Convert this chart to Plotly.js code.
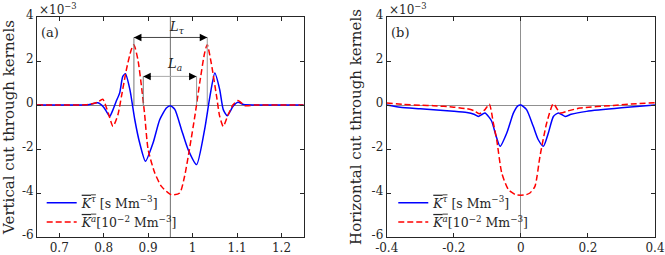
<!DOCTYPE html>
<html>
<head>
<meta charset="utf-8">
<script src="https://cdn.plot.ly/plotly-3.0.1.min.js"></script>
<style>html,body{margin:0;padding:0;background:#fff;}#chart{width:665px;height:255px;}</style>
</head>
<body>
<div id="chart"></div>
<script>
// Values in units of 1e-3
const vertX_tau = [0.65,0.70,0.74,0.765,0.787,0.800,0.806,0.8135,0.821,0.828,0.836,0.843,0.849,0.859,0.870,0.881,0.894,0.911,0.926,0.941,0.950,0.960,0.975,0.990,1.009,1.027,1.039,1.050,1.061,1.069,1.078,1.091,1.102,1.115,1.14,1.25];
const vertY_tau = [0,0,0,0.01,0.10,-0.10,-0.29,-0.52,-0.21,0.16,0.55,1.30,1.42,0.70,-0.67,-1.73,-2.56,-1.73,-0.67,-0.14,-0.03,-0.20,-1.12,-2.03,-2.71,-1.12,0.39,1.45,0.70,-0.21,-0.49,-0.06,0.12,0.02,0,0];
const vertX_a = [0.65,0.70,0.76,0.785,0.798,0.810,0.821,0.832,0.840,0.851,0.862,0.868,0.877,0.885,0.892,0.900,0.915,0.930,0.952,0.971,0.982,0.994,1.005,1.016,1.027,1.033,1.042,1.054,1.061,1.069,1.080,1.091,1.102,1.118,1.14,1.25];
const vertY_a = [0,0,0.01,0.12,0.26,-0.35,-0.97,-0.44,0.39,1.60,2.51,2.74,2.06,0.85,-0.40,-2.03,-3.09,-3.70,-4.08,-4.00,-3.24,-1.88,-0.52,1.00,2.36,2.74,1.90,0.39,-0.52,-0.97,-0.44,0.01,0.20,-0.03,0,0];

const horX_tau = [-0.40,-0.36,-0.30,-0.20,-0.161,-0.14,-0.127,-0.115,-0.107,-0.095,-0.087,-0.072,-0.062,-0.042,-0.022,-0.008,0,0.017,0.037,0.052,0.067,0.082,0.097,0.112,0.132,0.15,0.196,0.30,0.355,0.40];
const horY_tau = [0,-0.10,-0.17,-0.28,-0.34,-0.42,-0.52,-0.42,-0.36,-0.55,-0.74,-1.50,-1.88,-1.27,-0.36,-0.03,0,-0.21,-0.97,-1.58,-1.88,-1.27,-0.52,-0.36,-0.52,-0.42,-0.29,-0.13,-0.06,0];
const horX_a = [-0.40,-0.35,-0.30,-0.26,-0.20,-0.161,-0.14,-0.124,-0.107,-0.094,-0.082,-0.072,-0.057,-0.037,-0.015,0,0.015,0.027,0.042,0.057,0.077,0.097,0.117,0.14,0.176,0.276,0.345,0.40];
const horY_a = [0.09,0.03,-0.01,-0.03,-0.10,-0.17,-0.26,-0.40,-0.21,0.04,-0.82,-1.58,-3.09,-3.85,-4.08,-4.10,-4.08,-4.00,-3.70,-2.33,-0.82,0.06,-0.36,-0.27,-0.14,-0.02,0.06,0.10];

const yTicks = [-6,-4,-2,0,2,4];
const yTickText = ['-6','-4','-2','0','2','4'];
const x1Ticks = [0.7,0.8,0.9,1.0,1.1,1.2];
const x1TickText = ['0.7','0.8','0.9','1','1.1','1.2'];
const x2Ticks = [-0.4,-0.2,0,0.2,0.4];
const x2TickText = ['-0.4','-0.2','0','0.2','0.4'];

const legTau = '<span style="text-decoration:overline"><i>K</i><sup><i>τ</i></sup></span> [s Mm<sup>−3</sup>]';
const legA = '<span style="text-decoration:overline"><i>K</i><sup><i>a</i></sup></span>[10<sup>−2</sup> Mm<sup>−3</sup>]';

// annotation positions (L_tau and L_a)
const LtauEnds = [0.868, 1.033], LtauY = 3.07;
const LaEnds = [0.889, 1.009], LaY = 1.30;

const FONT = 'DejaVu Serif';
const blue = '#0000ff', red = '#ff0000';

const traces = [
  {x: vertX_tau, y: vertY_tau, xaxis:'x', yaxis:'y', mode:'lines', line:{color:blue,width:1.5,shape:'spline',smoothing:0.6}, name:legTau, legend:'legend'},
  {x: vertX_a, y: vertY_a, xaxis:'x', yaxis:'y', mode:'lines', line:{color:red,width:1.5,dash:'6px,3px',shape:'spline',smoothing:0.6}, name:legA, legend:'legend'},
  {x: horX_tau, y: horY_tau, xaxis:'x2', yaxis:'y2', mode:'lines', line:{color:blue,width:1.5,shape:'spline',smoothing:0.6}, name:legTau, legend:'legend2'},
  {x: horX_a, y: horY_a, xaxis:'x2', yaxis:'y2', mode:'lines', line:{color:red,width:1.5,dash:'6px,3px',shape:'spline',smoothing:0.6}, name:legA, legend:'legend2'}
];

const axCommon = {showline:true, linecolor:'#262626', linewidth:1, mirror:'ticks', ticks:'inside', ticklen:4, tickcolor:'#262626', showgrid:false, tickfont:{family:FONT,size:12,color:'#262626'}};

const layout = {
  width:665, height:255,
  margin:{l:37, r:10, t:17, b:18},
  paper_bgcolor:'#fff', plot_bgcolor:'#fff',
  font:{family:FONT, size:12, color:'#262626'},
  showlegend:true,
  xaxis: Object.assign({}, axCommon, {domain:[0,0.4316], range:[0.65,1.25], tickvals:x1Ticks, ticktext:x1TickText, zeroline:false, anchor:'y'}),
  yaxis: Object.assign({}, axCommon, {range:[-6,4], tickvals:yTicks, ticktext:yTickText, zeroline:true, zerolinecolor:'#808080', zerolinewidth:1, anchor:'x', ticklabelshift:-2,
    title:{text:'Vertical cut through kernels', font:{family:FONT,size:15,color:'#262626'}, standoff:6}}),
  xaxis2: Object.assign({}, axCommon, {domain:[0.5659,1], range:[-0.4,0.4], tickvals:x2Ticks, ticktext:x2TickText, zeroline:true, zerolinecolor:'#909090', zerolinewidth:1, anchor:'y2'}),
  yaxis2: Object.assign({}, axCommon, {range:[-6,4], tickvals:yTicks, ticktext:yTickText, zeroline:true, zerolinecolor:'#909090', zerolinewidth:1, anchor:'x2', ticklabelshift:-2,
    title:{text:'Horizontal cut through kernels', font:{family:FONT,size:15,color:'#262626'}, standoff:6}}),
  legend:{x:0.0076, y:0.222, xanchor:'left', yanchor:'top', bgcolor:'rgba(0,0,0,0)', borderwidth:0, font:{family:FONT,size:12.5,color:'#262626'}, tracegroupgap:0, itemwidth:30},
  legend2:{x:0.5765, y:0.222, xanchor:'left', yanchor:'top', bgcolor:'rgba(0,0,0,0)', borderwidth:0, font:{family:FONT,size:12.5,color:'#262626'}, tracegroupgap:0, itemwidth:30},
  shapes:[
    {type:'line', xref:'x', yref:'y domain', x0:0.95, x1:0.95, y0:0, y1:1, line:{color:'#707070', width:1}, layer:'below'},
    {type:'line', xref:'x', yref:'y', x0:LtauEnds[0], x1:LtauEnds[1], y0:LtauY, y1:LtauY, line:{color:'#444', width:1}},
    {type:'line', xref:'x', yref:'y', x0:LaEnds[0], x1:LaEnds[1], y0:LaY, y1:LaY, line:{color:'#aaa', width:1}},
    {type:'line', xref:'x', yref:'y', x0:LtauEnds[0], x1:LtauEnds[0], y0:0, y1:LtauY, line:{color:'#777', width:1}},
    {type:'line', xref:'x', yref:'y', x0:LtauEnds[1], x1:LtauEnds[1], y0:0, y1:LtauY, line:{color:'#999', width:1}},
    {type:'line', xref:'x', yref:'y', x0:LaEnds[0], x1:LaEnds[0], y0:0, y1:LaY, line:{color:'#777', width:1}},
    {type:'line', xref:'x', yref:'y', x0:LaEnds[1], x1:LaEnds[1], y0:0, y1:LaY, line:{color:'#999', width:1}}
  ],
  annotations:[
    {xref:'paper', yref:'paper', x:0, y:1, xanchor:'left', yanchor:'bottom', showarrow:false, text:'×10<sup>−3</sup>', font:{family:FONT,size:12,color:'#262626'}, yshift:-2},
    {xref:'paper', yref:'paper', x:0.5659, y:1, xanchor:'left', yanchor:'bottom', showarrow:false, text:'×10<sup>−3</sup>', font:{family:FONT,size:12,color:'#262626'}, yshift:-2},
    {xref:'x domain', yref:'y domain', x:0.048, y:0.929, xanchor:'center', yanchor:'middle', showarrow:false, text:'(a)', font:{family:FONT,size:13,color:'#262626'}},
    {xref:'x2 domain', yref:'y2 domain', x:0.05, y:0.929, xanchor:'center', yanchor:'middle', showarrow:false, text:'(b)', font:{family:FONT,size:13,color:'#262626'}},
    {xref:'x', yref:'y', x:0.964, y:3.53, xanchor:'center', yanchor:'middle', showarrow:false, text:'<i>L</i><sub><i>τ</i></sub>', font:{family:FONT,size:13,color:'#262626'}},
    {xref:'x', yref:'y', x:0.96, y:1.86, xanchor:'center', yanchor:'middle', showarrow:false, text:'<i>L</i><sub><i>a</i></sub>', font:{family:FONT,size:13,color:'#262626'}},
    {xref:'x', yref:'y', x:LtauEnds[0], y:LtauY, ax:9, ay:0, text:'', showarrow:true, arrowhead:2, arrowsize:1.5, arrowwidth:1, arrowcolor:'#000', standoff:0},
    {xref:'x', yref:'y', x:LtauEnds[1], y:LtauY, ax:-9, ay:0, text:'', showarrow:true, arrowhead:2, arrowsize:1.5, arrowwidth:1, arrowcolor:'#000', standoff:0},
    {xref:'x', yref:'y', x:LaEnds[0], y:LaY, ax:9, ay:0, text:'', showarrow:true, arrowhead:2, arrowsize:1.5, arrowwidth:1, arrowcolor:'#000', standoff:0},
    {xref:'x', yref:'y', x:LaEnds[1], y:LaY, ax:-9, ay:0, text:'', showarrow:true, arrowhead:2, arrowsize:1.5, arrowwidth:1, arrowcolor:'#000', standoff:0}
  ]
};

Plotly.newPlot('chart', traces, layout, {displayModeBar:false, staticPlot:true});
</script>
</body>
</html>
